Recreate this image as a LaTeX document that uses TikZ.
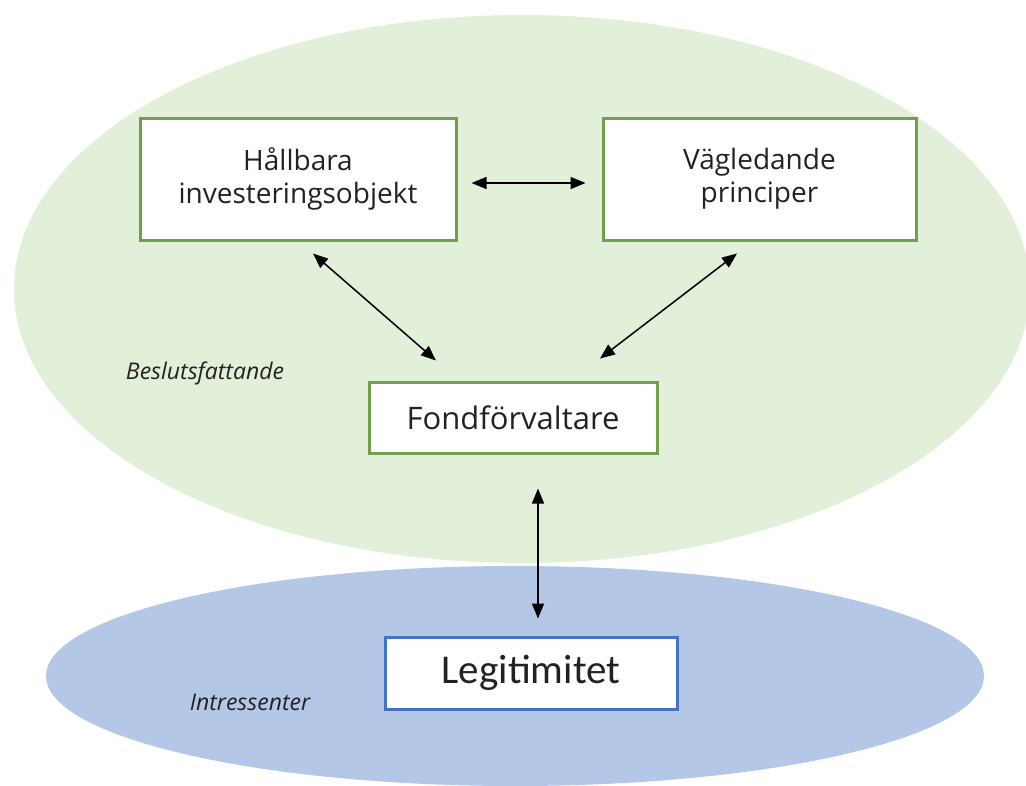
\documentclass[tikz,border=0pt]{standalone}
\usepackage{fontspec}
\setmainfont{Open Sans}
\newfontfamily\calfont{Carlito}
\usetikzlibrary{arrows.meta,calc}
\definecolor{greenfill}{HTML}{E2EFD9}
\definecolor{greenline}{HTML}{70A04C}
\definecolor{bluefill}{HTML}{B4C7E7}
\definecolor{blueline}{HTML}{4472C4}
\definecolor{txt}{HTML}{222222}
\begin{document}
\begin{tikzpicture}[x=1pt,y=-1pt,
  gbox/.style={draw=greenline,line width=3pt,fill=white,inner sep=0pt,align=center,text=txt,font=\fontsize{28}{33}\selectfont},
  bbox/.style={draw=blueline,line width=3pt,fill=white,inner sep=0pt,align=center,text=txt,font=\calfont\fontsize{41}{44}\selectfont},
  lbl/.style={font=\fontsize{23}{26}\selectfont\itshape,text=txt,inner sep=0pt},
  arr/.style={line width=1.5pt,{Triangle[length=15pt,width=12pt]}-{Triangle[length=15pt,width=12pt]}}]
\useasboundingbox (0,0) rectangle (1026,785);
\fill[white] (0,0) rectangle (1026,785);
\fill[greenfill] (522,289) ellipse [x radius=508, y radius=274];
\fill[bluefill] (515,676) ellipse [x radius=469, y radius=110];
\node[gbox,minimum width=316pt,minimum height=122pt] (h) at (298,179) {Hållbara\\investeringsobjekt\vphantom{g}};
\node[gbox,minimum width=313pt,minimum height=122pt] (v) at (759.5,179) {Vägledande\\principer};
\node[gbox,minimum width=288pt,minimum height=71pt,font=\fontsize{31}{34}\selectfont] (f) at (513,417.5) {Fondförvaltare};
\node[bbox,minimum width=292pt,minimum height=72pt] (l) at (531,673) {Legitimitet};
\node[lbl] (beslut) at (205,373) {Beslutsfattande};
\node[lbl] (intr) at (250,702) {Intressenter};
\draw[arr] ($(h.east)+(14,4)$) -- ($(v.west)+(-16,4)$);
\draw[arr] ($(h.south)+(15,12)$) -- ($(f.north)+(-77,-20)$);
\draw[arr] ($(v.south)+(-22.5,12)$) -- ($(f.north)+(87,-22)$);
\draw[arr] ($(f.south)+(25,34)$) -- ($(l.north)+(7,-17)$);
\end{tikzpicture}
\end{document}
